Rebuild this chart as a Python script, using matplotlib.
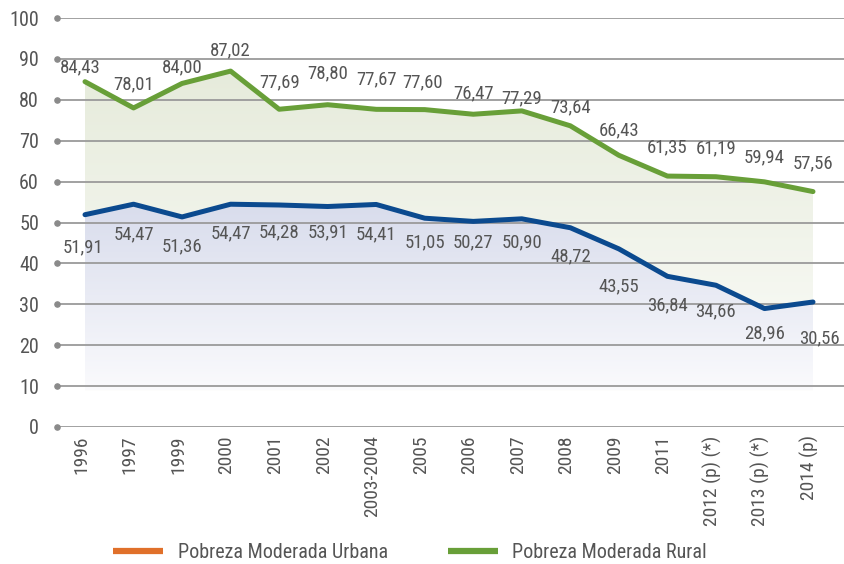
import matplotlib
matplotlib.use("Agg")
import matplotlib.pyplot as plt
import matplotlib.transforms as mtransforms
import numpy as np
from matplotlib.lines import Line2D
from matplotlib.colors import LinearSegmentedColormap
from matplotlib import font_manager

names = {f.name for f in font_manager.fontManager.ttflist}
prefs = ['Roboto Condensed', 'Liberation Sans Narrow', 'Arial Narrow', 'PT Sans Narrow',
         'Archivo Narrow', 'Fira Sans Condensed', 'IBM Plex Sans Condensed']
chosen = next((p for p in prefs if p in names), None)
scale = 1.0
if chosen is None:
    chosen = 'Liberation Sans'
    scale = 0.86
plt.rcParams['font.family'] = [chosen, 'DejaVu Sans']

categories = ["1996", "1997", "1999", "2000", "2001", "2002", "2003-2004", "2005",
              "2006", "2007", "2008", "2009", "2011", "2012 (p) (*)", "2013 (p) (*)", "2014 (p)"]
rural = [84.43, 78.01, 84.00, 87.02, 77.69, 78.80, 77.67, 77.60, 76.47, 77.29,
         73.64, 66.43, 61.35, 61.19, 59.94, 57.56]
urbana = [51.91, 54.47, 51.36, 54.47, 54.28, 53.91, 54.41, 51.05, 50.27, 50.90,
          48.72, 43.55, 36.84, 34.66, 28.96, 30.56]
yticks = [0, 10, 20, 30, 40, 50, 60, 70, 80, 90, 100]
legend_labels = ["Pobreza Moderada Urbana", "Pobreza Moderada Rural"]

# label placement (pixel offsets of label centre from its point; style only)
rural_dy = [-14, -24, -16, -21, -27, -31, -30, -27, -21, -13, -18, -25, -29, -28, -24, -28]
urbana_dy = [33, 30, 29, 29, 27, 26, 30, 24, 21, 24, 29, 37, 29, 26, 25, 36]
rural_dx = [-5, 0, 0, 0, 0, 0, 0, -2, 0, 0, 0, 0, 0, 0, 0, 0]
urbana_dx = [-2, 0, 0, 0, 0, 0, 0, 0, 0, 0, 0, 0, 0, 0, 0, 6]

GREEN = "#689F38"
BLUE = "#0B4A8F"
ORANGE = "#E0702A"
TXT = "#555555"
GRID = "#9a9a9a"

fig = plt.figure(figsize=(8.45, 5.64), dpi=100)
ax = fig.add_axes([57/845, 1-427/564, 788/845, 409/564])
n = len(categories)
x = np.arange(n)
step = (813-85)/(n-1)
XL = ((57-85)/step, (845-85)/step)

for s in ax.spines.values():
    s.set_visible(False)

# gradient fills
def grad_fill(yvals, top_val, bot_val, c_top, c_bot, z):
    poly = ax.fill_between(x, yvals, 9, color='none', lw=0)
    cmap = LinearSegmentedColormap.from_list("g", [c_bot, c_top])
    g = np.clip((np.linspace(0, 100, 256) - bot_val) / (top_val - bot_val), 0, 1).reshape(-1, 1)
    im = ax.imshow(g, extent=[x[0], x[-1], 0, 100], origin='lower', aspect='auto',
                   cmap=cmap, vmin=0, vmax=1, zorder=z)
    path = poly.get_paths()[0]
    im.set_clip_path(path, transform=ax.transData)

grad_fill(rural, 88, 9, "#E6EBDB", "#FBFCF9", 1.2)
grad_fill(urbana, 55, 8, "#D8DCEC", "#FBFBFD", 1.4)
ax.set_xlim(*XL)
ax.set_ylim(0, 100)
for yv in yticks:
    ax.axhline(yv, color=GRID, lw=1.3, zorder=1.6)
ax.scatter([XL[0]]*len(yticks), yticks, s=14, color="#8a8a8a", zorder=3, clip_on=False)

ax.plot(x, rural, color=GREEN, lw=3.6, zorder=4, solid_capstyle='round')
ax.plot(x, urbana, color=BLUE, lw=3.6, zorder=4, solid_capstyle='round')

fs_lab = 13.5 * scale
PX = 0.72
for xi, v, dx, dy in zip(x, rural, rural_dx, rural_dy):
    ax.annotate(f"{v:.2f}".replace(".", ","), (xi, v), xytext=(dx*PX, -dy*PX), textcoords='offset points',
                ha='center', va='center', fontsize=fs_lab, color=TXT, zorder=5)
for xi, v, dx, dy in zip(x, urbana, urbana_dx, urbana_dy):
    ax.annotate(f"{v:.2f}".replace(".", ","), (xi, v), xytext=(dx*PX, -dy*PX), textcoords='offset points',
                ha='center', va='center', fontsize=fs_lab, color=TXT, zorder=5)

ax.set_yticks(yticks)
ax.set_yticklabels([str(v) for v in yticks], fontsize=14.5 * scale, color=TXT)
ax.set_xticks(x)
ax.set_xticklabels(categories, rotation=90, fontsize=14 * scale, color=TXT, va='top')
ax.tick_params(axis='both', length=0)
ax.tick_params(axis='y', pad=13)
ax.tick_params(axis='x', pad=6)
shift = mtransforms.ScaledTranslation(-4/100, 0, fig.dpi_scale_trans)
for lab in ax.get_xticklabels():
    lab.set_transform(lab.get_transform() + shift)

handles = [Line2D([], [], color=ORANGE, lw=4.5, solid_capstyle='butt'),
           Line2D([], [], color=GREEN, lw=4.5, solid_capstyle='butt')]
fig.legend(handles, legend_labels, loc='center left', bbox_to_anchor=(103/845, 1-553/564),
           ncol=2, frameon=False, fontsize=14.5 * scale, handlelength=2.5, handletextpad=0.7,
           columnspacing=3.0, borderpad=0, labelcolor=TXT)

fig.savefig("out.png", dpi=100)
